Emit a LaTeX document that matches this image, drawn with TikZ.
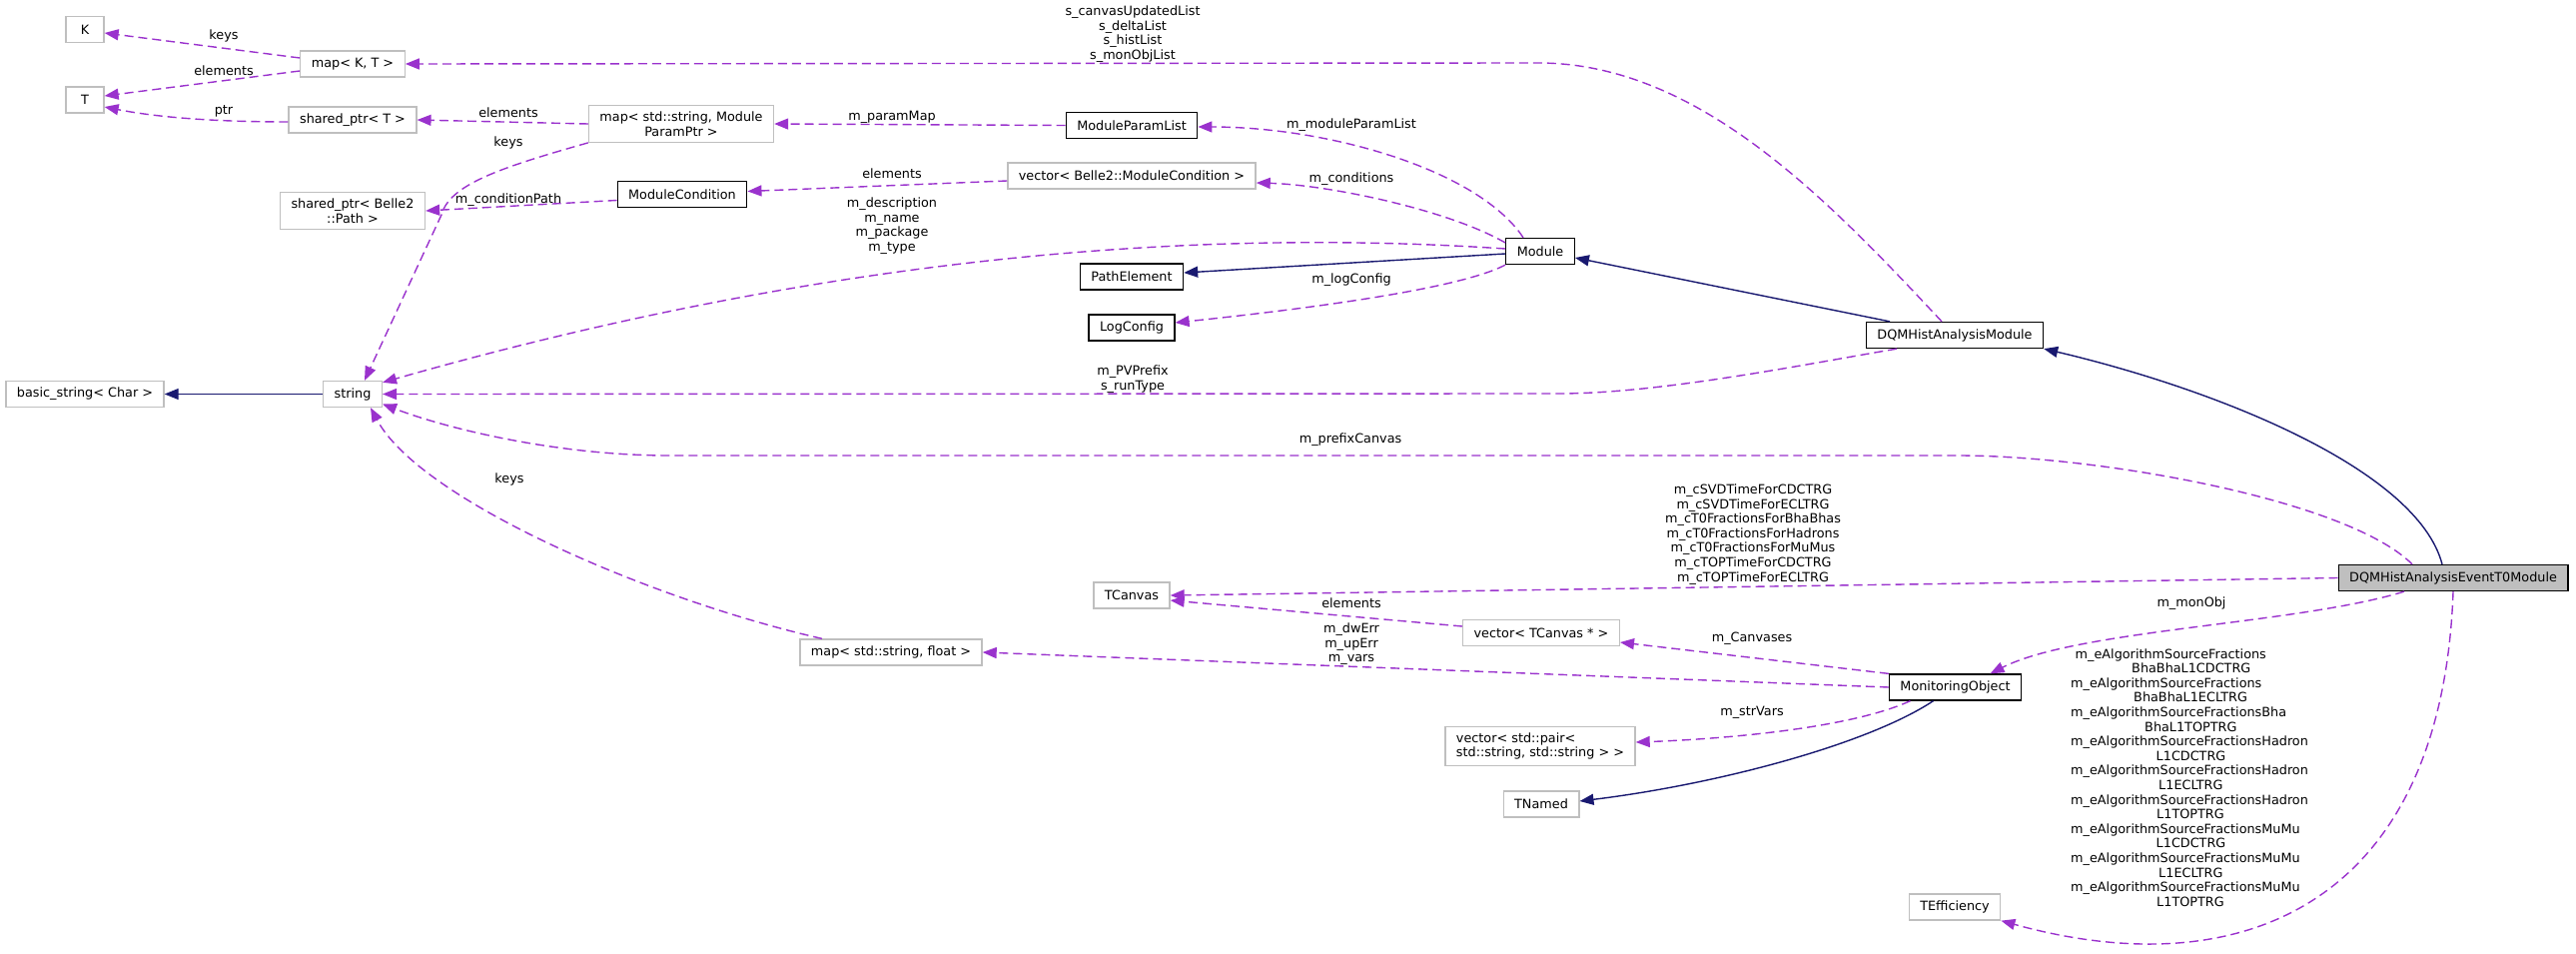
\documentclass[tikz,border=0pt]{standalone}
\usepackage{fontspec}
\setmainfont{DejaVu Sans}
\usetikzlibrary{arrows.meta}

\definecolor{deppurple}{HTML}{9A32CD}
\definecolor{inhblue}{HTML}{191970}
\definecolor{nodegray}{HTML}{BFBFBF}
\definecolor{selgray}{HTML}{BFBFBF}

\begin{document}
\begin{tikzpicture}[x=1pt, y=-1pt, font=\fontsize{12.8}{14.6}\selectfont,
    cls/.style={draw=nodegray, line width=1.3pt, fill=white, inner xsep=11pt, inner ysep=6pt, minimum height=26pt, align=center},
    doc/.style={cls, draw=black},
    dep/.style={draw=deppurple, line width=1.4pt, dash pattern=on 9pt off 5pt, -{Triangle[length=14pt, width=11pt]}},
    inh/.style={draw=inhblue, line width=1.4pt, -{Triangle[length=14pt, width=11pt]}},
    lbl/.style={inner sep=0pt, align=center}]
    \useasboundingbox (0,0) rectangle (2579,955);

    % Templates
    \node[cls, minimum width=38pt] (kk) at (85,29.5) {K};
    \node[cls, minimum width=38pt] (tt) at (85,100) {T};
    \node[cls] (mapkt) at (353,64) {map< K, T >};
    \node[cls] (sptrt) at (353,120) {shared\_ptr< T >};
    \node[cls] (mapmpp) at (682,124) {map< std::string, Module\\ParamPtr >};
    \node[cls] (sptrpath) at (353,211) {shared\_ptr< Belle2\\::Path >};
    \node[cls] (vecmc) at (1133,176) {vector< Belle2::ModuleCondition >};
    \node[cls] (basicstr) at (85,394.5) {basic\_string< Char >};
    \node[cls] (str) at (353,394.5) {string};

    % Framework classes
    \node[doc] (mplist) at (1133,125.5) {ModuleParamList};
    \node[doc] (modcond) at (683,194.5) {ModuleCondition};
    \node[doc] (module) at (1542,251.5) {Module};
    \node[doc] (pathel) at (1133,277) {PathElement};
    \node[doc] (logcfg) at (1133,328) {LogConfig};
    \node[doc] (dqmham) at (1957,335.5) {DQMHistAnalysisModule};
    \node[doc, fill=selgray] (t0mod) at (2456,578.5) {DQMHistAnalysisEventT0Module};
    \node[doc] (monobj) at (1957.5,688) {MonitoringObject};

    % ROOT and std classes
    \node[cls] (tcanvas) at (1133,596) {TCanvas};
    \node[cls] (vectc) at (1543,633.5) {vector< TCanvas * >};
    \node[cls] (mapfloat) at (892,653) {map< std::string, float >};
    \node[cls, align=left] (vecpair) at (1542,747) {vector< std::pair<\\ std::string, std::string > >};
    \node[cls] (tnamed) at (1543,805) {TNamed};
    \node[cls] (teff) at (1957,908) {TEfficiency};

    % Template members
    \draw[dep] ([yshift=6pt]mapkt.west) -- ([yshift=-3.5pt]kk.east);
    \node[lbl] (lkeysk) at (224,36) {keys};
    \draw[dep] ([yshift=-7pt]mapkt.west) -- ([yshift=4pt]tt.east);
    \node[lbl] (lelemt) at (224,71) {elements};
    \draw[dep] ([yshift=-2pt]sptrt.west) .. controls (220,122) and (160,118) .. ([yshift=-7pt]tt.east);
    \node[lbl] (lptr) at (224,111) {ptr};
    \draw[dep] (mapmpp.west) -- (sptrt.east);
    \node[lbl] (lelemsp) at (509,113) {elements};
    \draw[dep] (mapmpp.south west) .. controls (500,168) and (450,185) .. (442,215) -- ([xshift=12pt]str.north);
    \node[lbl] (lkeysmpp) at (509,143) {keys};
    \draw[dep] (mplist.west) -- (mapmpp.east);
    \node[lbl] (lparammap) at (893,117) {m\_paramMap};
    \draw[dep] ([yshift=-6pt]modcond.west) -- (sptrpath.east);
    \node[lbl] (lcondpath) at (509,200) {m\_conditionPath};
    \draw[dep] ([yshift=-5pt]vecmc.west) -- ([yshift=3pt]modcond.east);
    \node[lbl] (lelemmc) at (893,174) {elements};
    \draw[inh] (str.west) -- (basicstr.east);

    % Module
    \draw[dep] ([xshift=-17pt]module.north) .. controls (1480,170) and (1330,127) .. ([yshift=-1.5pt]mplist.east);
    \node[lbl] (lmplist) at (1353,125) {m\_moduleParamList};
    \draw[dep] ([yshift=8.5pt]module.west) .. controls (1450,210) and (1330,185) .. ([yshift=-7pt]vecmc.east);
    \node[lbl] (lconds) at (1353,179) {m\_conditions};
    \draw[dep] ([yshift=2.5pt]module.west) .. controls (1150,225) and (780,270) .. ([yshift=-2pt]str.north east);
    \node[lbl] (ldescr) at (893,226) {m\_description\\m\_name\\m\_package\\m\_type};
    \draw[inh] ([yshift=-2.5pt]module.west) -- ([yshift=4pt]pathel.east);
    \draw[dep] (module.south west) .. controls (1460,290) and (1300,310) .. ([yshift=5pt]logcfg.east);
    \node[lbl] (llogcfg) at (1353,280) {m\_logConfig};

    % DQMHistAnalysisModule
    \draw[inh] ([xshift=-65pt]dqmham.north) -- ([yshift=-6.5pt]module.east);
    \draw[dep] ([xshift=-13pt]dqmham.north) .. controls (1830,200) and (1700,63) .. (1540,63) -- (mapkt.east);
    \node[lbl] (llists) at (1134,34) {s\_canvasUpdatedList\\s\_deltaList\\s\_histList\\s\_monObjList};
    \draw[dep] ([xshift=-58pt]dqmham.south) .. controls (1800,366) and (1660,394) .. (1560,394) -- (str.east);
    \node[lbl] (lprefix) at (1134,379.5) {m\_PVPrefix\\s\_runType};

    % DQMHistAnalysisEventT0Module
    \draw[inh] ([xshift=-11pt]t0mod.north) .. controls (2420,470) and (2220,390) .. (dqmham.south east);
    \draw[dep] ([xshift=-41pt]t0mod.north) .. controls (2350,500) and (2100,456) .. (1960,456) -- (670,456) .. controls (560,456) and (450,430) .. ([yshift=-10pt]str.east);
    \node[lbl] (lprefcanv) at (1352,440) {m\_prefixCanvas};
    \draw[dep] (t0mod.west) -- (tcanvas.east);
    \node[lbl] (lcanvases) at (1755,535) {m\_cSVDTimeForCDCTRG\\m\_cSVDTimeForECLTRG\\m\_cT0FractionsForBhaBhas\\m\_cT0FractionsForHadrons\\m\_cT0FractionsForMuMus\\m\_cTOPTimeForCDCTRG\\m\_cTOPTimeForECLTRG};
    \draw[dep] ([xshift=-49pt]t0mod.south) .. controls (2300,625) and (2080,630) .. ([xshift=35pt]monobj.north);
    \node[lbl] (lmonobj) at (2194,604) {m\_monObj};
    \draw[dep] (t0mod.south) .. controls (2445,900) and (2250,990) .. (teff.south east);
    \node[lbl, align=left, anchor=west] (leff) at (2073,778.5) {%
        \hspace*{4.5pt}m\_eAlgorithmSourceFractions\\ \hspace*{61pt}BhaBhaL1CDCTRG\\
        m\_eAlgorithmSourceFractions\\ \hspace*{63pt}BhaBhaL1ECLTRG\\
        m\_eAlgorithmSourceFractionsBha\\ \hspace*{74pt}BhaL1TOPTRG\\
        m\_eAlgorithmSourceFractionsHadron\\ \hspace*{85.5pt}L1CDCTRG\\
        m\_eAlgorithmSourceFractionsHadron\\ \hspace*{88pt}L1ECLTRG\\
        m\_eAlgorithmSourceFractionsHadron\\ \hspace*{86pt}L1TOPTRG\\
        m\_eAlgorithmSourceFractionsMuMu\\ \hspace*{85.5pt}L1CDCTRG\\
        m\_eAlgorithmSourceFractionsMuMu\\ \hspace*{88pt}L1ECLTRG\\
        m\_eAlgorithmSourceFractionsMuMu\\ \hspace*{86pt}L1TOPTRG};

    % MonitoringObject
    \draw[dep] ([yshift=6.5pt]vectc.west) -- ([yshift=-5pt]tcanvas.east);
    \node[lbl] (lelemtc) at (1353,604) {elements};
    \draw[dep] (monobj.north west) -- ([yshift=-9.5pt]vectc.east);
    \node[lbl] (lcanv) at (1754,639) {m\_Canvases};
    \draw[dep] (monobj.west) -- (mapfloat.east);
    \node[lbl] (lvars) at (1353,645) {m\_dwErr\\m\_upErr\\m\_vars};
    \draw[dep] ([xshift=-45pt]monobj.south) .. controls (1850,730) and (1720,740) .. ([yshift=4pt]vecpair.east);
    \node[lbl] (lstrvars) at (1754,713) {m\_strVars};
    \draw[inh] ([xshift=-22pt]monobj.south) .. controls (1870,745) and (1720,785) .. ([yshift=3pt]tnamed.east);
    \draw[dep] ([xshift=-69pt]mapfloat.north) .. controls (650,600) and (420,500) .. ([xshift=18pt]str.south);
    \node[lbl] (lkeysf) at (510,480) {keys};
\end{tikzpicture}
\end{document}
